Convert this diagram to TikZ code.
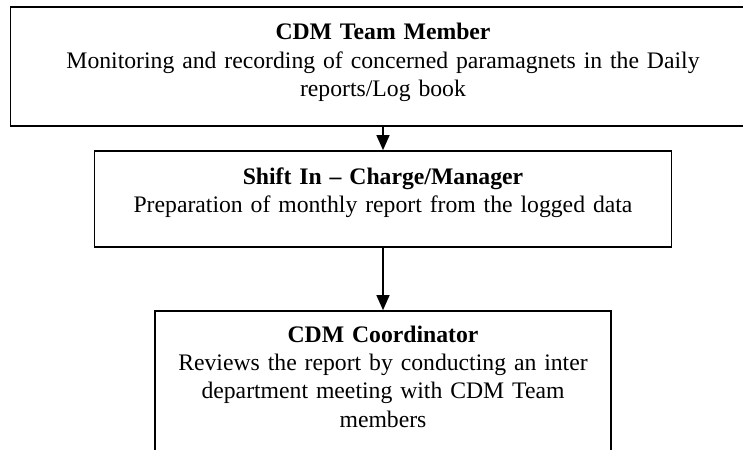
\documentclass[tikz,border=0pt]{standalone}
\usepackage{fontspec}
\setmainfont{Liberation Serif}
\usetikzlibrary{arrows.meta}
\begin{document}
\begin{tikzpicture}[x=1bp,y=-1bp,
  box/.style={draw, line width=1.7bp, inner sep=0pt},
  boxtext/.style={text width=#1, align=center, inner sep=0pt, anchor=base,
    font=\fontsize{23.7bp}{28.2bp}\selectfont},
  link/.style={line width=1.3bp, -{Triangle[width=13bp,length=15bp]}}]
% page area
\fill[white] (0,0) rectangle (743,450);
\clip (0,0) rectangle (743,450);

% boxes
\node[box, minimum width=745bp, minimum height=119bp] (member) at (383,66.5) {};
\node[box, minimum width=577bp, minimum height=96bp] (shift) at (383,199) {};
\node[box, minimum width=456bp, minimum height=179bp] (coord) at (383,400.5) {};

% box texts
\node[boxtext=720bp] (memberText) at ([yshift=-33.7bp]member.north)
  {{\bfseries CDM Team Member}\\
   Monitoring and recording of concerned paramagnets in the Daily\\
   reports/Log book};
\node[boxtext=560bp] (shiftText) at ([yshift=-34bp]shift.north)
  {{\bfseries Shift In \textendash\ Charge/Manager}\\
   Preparation of monthly report from the logged data};
\node[boxtext=440bp] (coordText) at ([yshift=-32.3bp]coord.north)
  {{\bfseries CDM Coordinator}\\
   Reviews the report by conducting an inter\\
   department meeting with CDM Team\\
   members};

% connectors
\draw[link] (member.south) -- (shift.north);
\draw[link] (shift.south) -- (coord.north);
\end{tikzpicture}
\end{document}
